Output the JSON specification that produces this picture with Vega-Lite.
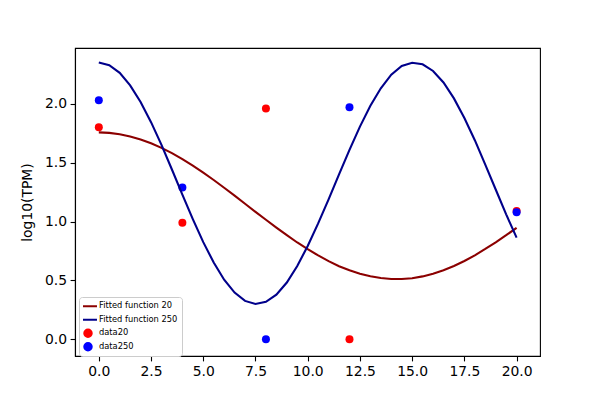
{
  "$schema": "https://vega.github.io/schema/vega-lite/v6.json",
  "width": 465,
  "height": 308,
  "autosize": {"type": "none"},
  "padding": {"left": 75, "top": 48, "right": 60, "bottom": 44},
  "background": "white",
  "datasets": {
    "curves": [
      {"x": 0, "y": 1.757, "series": "Fitted function 20"},
      {"x": 0.5, "y": 1.753, "series": "Fitted function 20"},
      {"x": 1, "y": 1.742, "series": "Fitted function 20"},
      {"x": 1.5, "y": 1.723, "series": "Fitted function 20"},
      {"x": 2, "y": 1.697, "series": "Fitted function 20"},
      {"x": 2.5, "y": 1.665, "series": "Fitted function 20"},
      {"x": 3, "y": 1.626, "series": "Fitted function 20"},
      {"x": 3.5, "y": 1.581, "series": "Fitted function 20"},
      {"x": 4, "y": 1.530, "series": "Fitted function 20"},
      {"x": 4.5, "y": 1.474, "series": "Fitted function 20"},
      {"x": 5, "y": 1.415, "series": "Fitted function 20"},
      {"x": 5.5, "y": 1.353, "series": "Fitted function 20"},
      {"x": 6, "y": 1.287, "series": "Fitted function 20"},
      {"x": 6.5, "y": 1.220, "series": "Fitted function 20"},
      {"x": 7, "y": 1.151, "series": "Fitted function 20"},
      {"x": 7.5, "y": 1.082, "series": "Fitted function 20"},
      {"x": 8, "y": 1.015, "series": "Fitted function 20"},
      {"x": 8.5, "y": 0.948, "series": "Fitted function 20"},
      {"x": 9, "y": 0.884, "series": "Fitted function 20"},
      {"x": 9.5, "y": 0.822, "series": "Fitted function 20"},
      {"x": 10, "y": 0.765, "series": "Fitted function 20"},
      {"x": 10.5, "y": 0.712, "series": "Fitted function 20"},
      {"x": 11, "y": 0.664, "series": "Fitted function 20"},
      {"x": 11.5, "y": 0.621, "series": "Fitted function 20"},
      {"x": 12, "y": 0.586, "series": "Fitted function 20"},
      {"x": 12.5, "y": 0.557, "series": "Fitted function 20"},
      {"x": 13, "y": 0.535, "series": "Fitted function 20"},
      {"x": 13.5, "y": 0.520, "series": "Fitted function 20"},
      {"x": 14, "y": 0.512, "series": "Fitted function 20"},
      {"x": 14.5, "y": 0.512, "series": "Fitted function 20"},
      {"x": 15, "y": 0.519, "series": "Fitted function 20"},
      {"x": 15.5, "y": 0.534, "series": "Fitted function 20"},
      {"x": 16, "y": 0.557, "series": "Fitted function 20"},
      {"x": 16.5, "y": 0.586, "series": "Fitted function 20"},
      {"x": 17, "y": 0.623, "series": "Fitted function 20"},
      {"x": 17.5, "y": 0.665, "series": "Fitted function 20"},
      {"x": 18, "y": 0.713, "series": "Fitted function 20"},
      {"x": 18.5, "y": 0.767, "series": "Fitted function 20"},
      {"x": 19, "y": 0.824, "series": "Fitted function 20"},
      {"x": 19.5, "y": 0.884, "series": "Fitted function 20"},
      {"x": 20, "y": 0.947, "series": "Fitted function 20"},
      {"x": 0, "y": 2.350, "series": "Fitted function 250"},
      {"x": 0.5, "y": 2.328, "series": "Fitted function 250"},
      {"x": 1, "y": 2.263, "series": "Fitted function 250"},
      {"x": 1.5, "y": 2.157, "series": "Fitted function 250"},
      {"x": 2, "y": 2.015, "series": "Fitted function 250"},
      {"x": 2.5, "y": 1.844, "series": "Fitted function 250"},
      {"x": 3, "y": 1.651, "series": "Fitted function 250"},
      {"x": 3.5, "y": 1.442, "series": "Fitted function 250"},
      {"x": 4, "y": 1.229, "series": "Fitted function 250"},
      {"x": 4.5, "y": 1.021, "series": "Fitted function 250"},
      {"x": 5, "y": 0.825, "series": "Fitted function 250"},
      {"x": 5.5, "y": 0.652, "series": "Fitted function 250"},
      {"x": 6, "y": 0.506, "series": "Fitted function 250"},
      {"x": 6.5, "y": 0.397, "series": "Fitted function 250"},
      {"x": 7, "y": 0.326, "series": "Fitted function 250"},
      {"x": 7.5, "y": 0.300, "series": "Fitted function 250"},
      {"x": 8, "y": 0.318, "series": "Fitted function 250"},
      {"x": 8.5, "y": 0.379, "series": "Fitted function 250"},
      {"x": 9, "y": 0.482, "series": "Fitted function 250"},
      {"x": 9.5, "y": 0.622, "series": "Fitted function 250"},
      {"x": 10, "y": 0.793, "series": "Fitted function 250"},
      {"x": 10.5, "y": 0.984, "series": "Fitted function 250"},
      {"x": 11, "y": 1.188, "series": "Fitted function 250"},
      {"x": 11.5, "y": 1.400, "series": "Fitted function 250"},
      {"x": 12, "y": 1.609, "series": "Fitted function 250"},
      {"x": 12.5, "y": 1.806, "series": "Fitted function 250"},
      {"x": 13, "y": 1.983, "series": "Fitted function 250"},
      {"x": 13.5, "y": 2.132, "series": "Fitted function 250"},
      {"x": 14, "y": 2.247, "series": "Fitted function 250"},
      {"x": 14.5, "y": 2.322, "series": "Fitted function 250"},
      {"x": 15, "y": 2.349, "series": "Fitted function 250"},
      {"x": 15.5, "y": 2.336, "series": "Fitted function 250"},
      {"x": 16, "y": 2.279, "series": "Fitted function 250"},
      {"x": 16.5, "y": 2.181, "series": "Fitted function 250"},
      {"x": 17, "y": 2.046, "series": "Fitted function 250"},
      {"x": 17.5, "y": 1.880, "series": "Fitted function 250"},
      {"x": 18, "y": 1.691, "series": "Fitted function 250"},
      {"x": 18.5, "y": 1.484, "series": "Fitted function 250"},
      {"x": 19, "y": 1.272, "series": "Fitted function 250"},
      {"x": 19.5, "y": 1.061, "series": "Fitted function 250"},
      {"x": 20, "y": 0.863, "series": "Fitted function 250"}
    ],
    "points": [
      {"x": 0, "y": 1.80, "series": "data20"},
      {"x": 4, "y": 0.99, "series": "data20"},
      {"x": 8, "y": 1.96, "series": "data20"},
      {"x": 12, "y": 0.0, "series": "data20"},
      {"x": 20, "y": 1.09, "series": "data20"},
      {"x": 0, "y": 2.03, "series": "data250"},
      {"x": 4, "y": 1.29, "series": "data250"},
      {"x": 8, "y": 0.0, "series": "data250"},
      {"x": 12, "y": 1.97, "series": "data250"},
      {"x": 20, "y": 1.08, "series": "data250"}
    ]
  },
  "encoding": {
    "x": {
      "field": "x",
      "type": "quantitative",
      "scale": {"domain": [-1.14, 21.12], "nice": false, "zero": false},
      "axis": {"values": [0, 2.5, 5, 7.5, 10, 12.5, 15, 17.5, 20], "format": ".1f", "title": null}
    },
    "y": {
      "field": "y",
      "type": "quantitative",
      "scale": {"domain": [-0.142, 2.474], "nice": false, "zero": false},
      "axis": {"values": [0, 0.5, 1, 1.5, 2], "format": ".1f", "title": "log10(TPM)", "titlePadding": 10}
    },
    "color": {
      "field": "series",
      "type": "nominal",
      "sort": null,
      "scale": {
        "domain": ["Fitted function 20", "Fitted function 250", "data20", "data250"],
        "range": ["#8b0000", "#00008b", "#ff0000", "#0000ff"]
      },
      "legend": {
        "title": null,
        "orient": "none",
        "legendX": 4,
        "legendY": 249,
        "padding": 4,
        "rowPadding": 2.5,
        "clipHeight": 10.5,
        "labelFontSize": 8.3,
        "labelOffset": 6,
        "symbolSize": 56,
        "symbolStrokeWidth": 2,
        "strokeColor": "#cccccc",
        "fillColor": "#ffffff",
        "cornerRadius": 3,
        "encode": {
          "symbols": {"update": {"stroke": {"scale": "color", "field": "value"}}}
        }
      }
    }
  },
  "layer": [
    {
      "data": {"name": "points"},
      "mark": {"type": "point", "filled": true, "opacity": 1, "size": 64},
      "encoding": {
        "shape": {
          "field": "series",
          "type": "nominal",
          "sort": null,
          "scale": {
            "domain": ["Fitted function 20", "Fitted function 250", "data20", "data250"],
            "range": ["M-2.4,0H2.4", "M-2.4,0H2.4", "circle", "circle"]
          },
          "legend": {"title": null}
        }
      }
    },
    {
      "data": {"name": "curves"},
      "mark": {"type": "line", "strokeWidth": 2.1},
      "encoding": {}
    }
  ],
  "config": {
    "font": "DejaVu Sans",
    "view": {"stroke": "black", "strokeWidth": 1.1},
    "axis": {
      "grid": false,
      "domainColor": "black",
      "domainWidth": 1.1,
      "tickColor": "black",
      "tickWidth": 1.1,
      "tickSize": 4.9,
      "labelFontSize": 13.9,
      "labelColor": "black",
      "labelPadding": 3.5,
      "titleFontSize": 13.9,
      "titleFontWeight": "normal",
      "titleColor": "black"
    }
  }
}
